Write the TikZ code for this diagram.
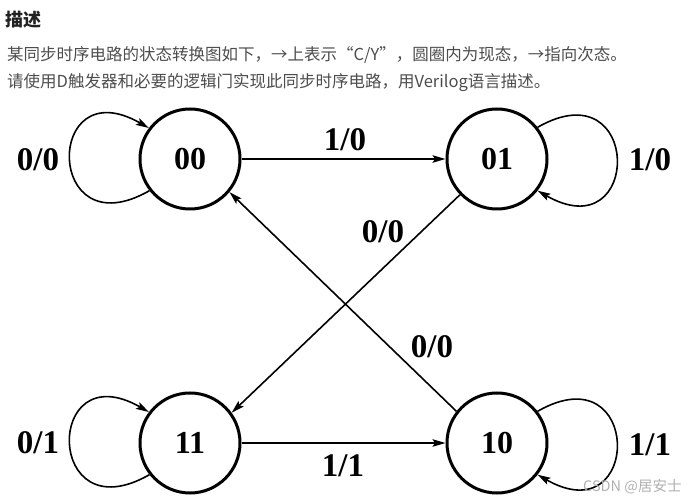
\documentclass[tikz,border=0pt]{standalone}
\usepackage{fontspec}
\setmainfont{Liberation Serif}
\newfontfamily\cjk{Noto Sans CJK SC}
\usetikzlibrary{arrows.meta}
\definecolor{bodytext}{HTML}{4D4D4D}
\definecolor{titletext}{HTML}{222222}
\definecolor{wmark}{HTML}{B0B0B0}
\begin{document}
\begin{tikzpicture}[x=1pt,y=1pt,
  state/.style={circle,draw,line width=3pt,minimum size=100pt,inner sep=0pt,
    font=\fontsize{32}{32}\selectfont\bfseries},
  lbl/.style={font=\fontsize{33}{33}\selectfont\bfseries,inner sep=0pt},
  tr/.style={line width=1.6pt,-{Stealth[length=13pt,width=7.5pt,inset=2.5pt]}},
  hdr/.style={anchor=west,inner sep=0pt,font=\cjk\fontsize{16.5}{16.5}\selectfont,text=bodytext}]
\useasboundingbox (0,0) rectangle (698,503);
% header text
\node[anchor=west,inner sep=0pt,font=\cjk\bfseries\fontsize{18}{18}\selectfont,text=titletext] (title) at (5,483) {描述};
\node[hdr] (line1) at (7,448) {某同步时序电路的状态转换图如下，→上表示“C/Y”，圆圈内为现态，→指向次态。};
\node[hdr] (line2) at (7,420) {请使用D触发器和必要的逻辑门实现此同步时序电路，用Verilog语言描述。};
% states
\node[state] (s00) at (190,344) {00};
\node[state] (s01) at (497,344) {01};
\node[state] (s11) at (190,60) {11};
\node[state] (s10) at (497,60) {10};
% transitions
\draw[tr] (s00.east) -- (s01.west);
\draw[tr] (s11.east) -- (s10.west);
\draw[tr] (s01.224) -- (s11.36);
\draw[tr] (s10.142) -- (s00.320);
% self loops
\draw[tr] (s00.218) .. controls +(-105,-60) and +(-105,60) .. (s00.143);
\draw[tr] (s11.218) .. controls +(-105,-60) and +(-105,60) .. (s11.143);
\draw[tr] (s01.38) .. controls +(105,60) and +(105,-60) .. (s01.-38);
\draw[tr] (s10.38) .. controls +(105,60) and +(105,-60) .. (s10.-38);
% labels
\node[lbl] (l1) at (345,363) {1/0};
\node[lbl] (l2) at (343,37) {1/1};
\node[lbl] (l3) at (383,271) {0/0};
\node[lbl] (l4) at (432,156) {0/0};
\node[lbl] (l5) at (38,343) {0/0};
\node[lbl] (l6) at (650,343) {1/0};
\node[lbl] (l7) at (38,60) {0/1};
\node[lbl] (l8) at (650,58) {1/1};
% watermark
\node[anchor=west,inner sep=0pt,font=\cjk\fontsize{14.5}{14.5}\selectfont,text=wmark] (wm) at (583,16) {CSDN @居安士};
\end{tikzpicture}
\end{document}
